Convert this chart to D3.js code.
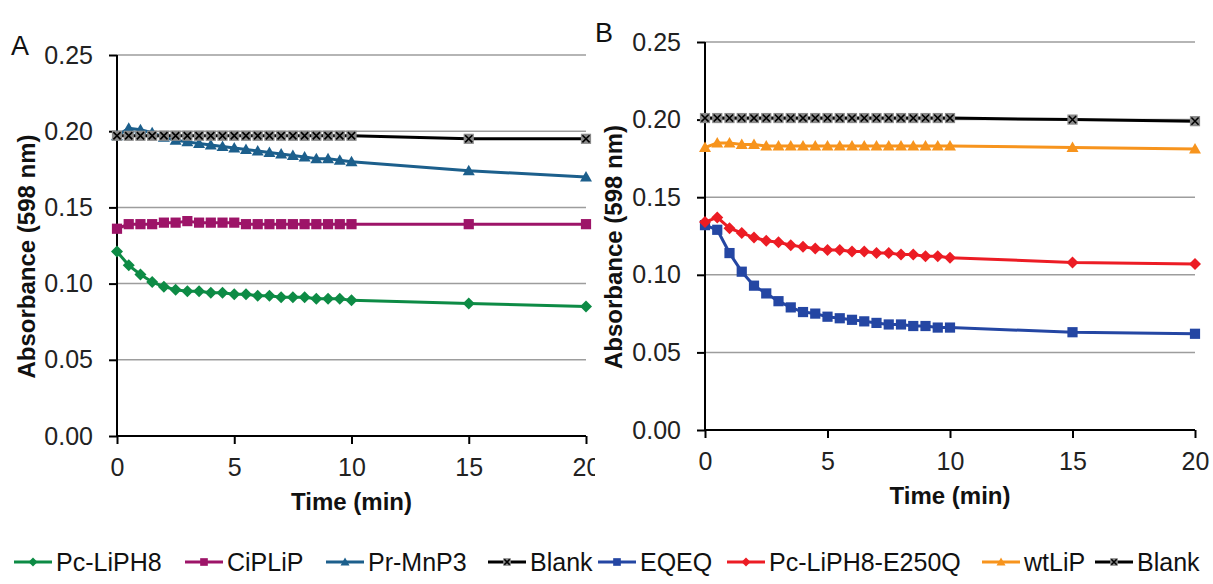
<!DOCTYPE html>
<html>
<head>
<meta charset="utf-8">
<script src="https://cdn.jsdelivr.net/npm/d3@7"></script>
<style>
    body { margin: 0; background: #fff; }
    svg { display: block; font-family: "Liberation Sans", Arial, sans-serif; }
</style>
</head>
<body>
<svg id="chart" width="1213" height="584"></svg>
<script>
// time points (min)
const times = [0, 0.5, 1, 1.5, 2, 2.5, 3, 3.5, 4, 4.5, 5, 5.5, 6, 6.5, 7, 7.5, 8, 8.5, 9, 9.5, 10, 15, 20];
const xTicks = [0, 5, 10, 15, 20];
const yTicks = [0, 0.05, 0.10, 0.15, 0.20, 0.25];

// panel A
const pcLiPH8 = [0.121, 0.112, 0.106, 0.101, 0.098, 0.096, 0.095, 0.095, 0.094, 0.094, 0.093, 0.093, 0.092, 0.092, 0.091, 0.091, 0.091, 0.090, 0.090, 0.090, 0.089, 0.087, 0.085];
const ciPLiP = [0.136, 0.139, 0.139, 0.139, 0.140, 0.140, 0.141, 0.140, 0.140, 0.140, 0.140, 0.139, 0.139, 0.139, 0.139, 0.139, 0.139, 0.139, 0.139, 0.139, 0.139, 0.139, 0.139];
const prMnP3 = [0.197, 0.202, 0.201, 0.199, 0.196, 0.194, 0.193, 0.192, 0.191, 0.190, 0.189, 0.188, 0.187, 0.186, 0.185, 0.184, 0.183, 0.182, 0.182, 0.181, 0.180, 0.174, 0.170];
const blankA = [0.197, 0.197, 0.197, 0.197, 0.197, 0.197, 0.197, 0.197, 0.197, 0.197, 0.197, 0.197, 0.197, 0.197, 0.197, 0.197, 0.197, 0.197, 0.197, 0.197, 0.197, 0.195, 0.195];

// panel B
const eqeq = [0.132, 0.129, 0.114, 0.102, 0.093, 0.088, 0.083, 0.079, 0.076, 0.075, 0.073, 0.072, 0.071, 0.070, 0.069, 0.068, 0.068, 0.067, 0.067, 0.066, 0.066, 0.063, 0.062];
const e250q = [0.134, 0.137, 0.130, 0.127, 0.124, 0.122, 0.121, 0.119, 0.118, 0.117, 0.116, 0.116, 0.115, 0.115, 0.114, 0.114, 0.113, 0.113, 0.112, 0.112, 0.111, 0.108, 0.107];
const wtLiP = [0.182, 0.185, 0.185, 0.184, 0.184, 0.183, 0.183, 0.183, 0.183, 0.183, 0.183, 0.183, 0.183, 0.183, 0.183, 0.183, 0.183, 0.183, 0.183, 0.183, 0.183, 0.182, 0.181];
const blankB = [0.201, 0.201, 0.201, 0.201, 0.201, 0.201, 0.201, 0.201, 0.201, 0.201, 0.201, 0.201, 0.201, 0.201, 0.201, 0.201, 0.201, 0.201, 0.201, 0.201, 0.201, 0.200, 0.199];

const seriesA = [
    { name: "Pc-LiPH8", values: pcLiPH8, color: "#0d8b45", marker: "diamond" },
    { name: "CiPLiP", values: ciPLiP, color: "#9d1468", marker: "square" },
    { name: "Pr-MnP3", values: prMnP3, color: "#1c5f8c", marker: "triangle" },
    { name: "Blank", values: blankA, color: "#000000", marker: "cross" }
];
const seriesB = [
    { name: "EQEQ", values: eqeq, color: "#2446a3", marker: "square" },
    { name: "Pc-LiPH8-E250Q", values: e250q, color: "#ec1c24", marker: "diamond" },
    { name: "wtLiP", values: wtLiP, color: "#f7941d", marker: "triangle" },
    { name: "Blank", values: blankB, color: "#000000", marker: "cross" }
];

const svg = d3.select("#chart");

svg.append("defs").append("clipPath")
    .attr("id", "clipA")
    .append("rect")
    .attr("x", 0).attr("y", 0)
    .attr("width", 595).attr("height", 520);

// draws one marker shape into g
const drawMarker = (g, type, color, s) => {
    if (type === "diamond") {
        g.append("path")
            .attr("d", `M0,${-s}L${s},0L0,${s}L${-s},0Z`)
            .attr("fill", color);
    } else if (type === "square") {
        const h = s * 0.85;
        g.append("rect")
            .attr("x", -h).attr("y", -h)
            .attr("width", 2 * h).attr("height", 2 * h)
            .attr("fill", color);
    } else if (type === "triangle") {
        g.append("path")
            .attr("d", `M0,${-s}L${s},${s * 0.75}L${-s},${s * 0.75}Z`)
            .attr("fill", color);
    } else {
        const h = s * 0.85;
        g.append("rect")
            .attr("x", -h).attr("y", -h)
            .attr("width", 2 * h).attr("height", 2 * h)
            .attr("fill", "#8a8a8a");
        const c = s * 0.6;
        g.append("path")
            .attr("d", `M${-c},${-c}L${c},${c}M${-c},${c}L${c},${-c}`)
            .attr("stroke", "#000")
            .attr("stroke-width", 1.6)
            .attr("fill", "none");
    }
};

const drawPanel = (opts) => {
    const { left, right, top, bottom, series, letter, letterX, letterY, yTitleX, xTitleY, clip } = opts;

    const g = svg.append("g");
    if (clip) g.attr("clip-path", "url(#clipA)");

    const x = d3.scaleLinear().domain([0, 20]).range([left, right]);
    const y = d3.scaleLinear().domain([0, 0.25]).range([bottom, top]);

    // gridlines
    g.append("g")
        .selectAll("line")
        .data(yTicks.filter(d => d > 0))
        .join("line")
        .attr("x1", left).attr("x2", right)
        .attr("y1", d => y(d)).attr("y2", d => y(d))
        .attr("stroke", "#9d9d9d")
        .attr("stroke-width", 1.5);

    const yAxis = g.append("g")
        .attr("transform", `translate(${left},0)`)
        .call(d3.axisLeft(y).tickValues(yTicks).tickFormat(d3.format(".2f")).tickSize(8).tickPadding(16));
    const xAxis = g.append("g")
        .attr("transform", `translate(0,${bottom})`)
        .call(d3.axisBottom(x).tickValues(xTicks).tickSize(8).tickPadding(14));

    [yAxis, xAxis].forEach(a => {
        a.select(".domain").attr("stroke", "#000").attr("stroke-width", 2);
        a.selectAll(".tick line").attr("stroke", "#000").attr("stroke-width", 2);
        a.selectAll(".tick text")
            .attr("fill", "#222")
            .attr("font-size", 25)
            .attr("font-family", "Liberation Sans, Arial, sans-serif");
    });
    yAxis.select(".domain").attr("d", `M0,${bottom}V${top}`);
    xAxis.select(".domain").attr("d", `M${left},0H${right}`);

    const line = d3.line()
        .x((d, i) => x(times[i]))
        .y(d => y(d));

    series.forEach(s => {
        g.append("path")
            .datum(s.values)
            .attr("fill", "none")
            .attr("stroke", s.color)
            .attr("stroke-width", 3)
            .attr("stroke-linejoin", "round")
            .attr("d", line);

        g.append("g")
            .selectAll("g")
            .data(s.values)
            .join("g")
            .attr("transform", (d, i) => `translate(${x(times[i])},${y(d)})`)
            .each(function () { drawMarker(d3.select(this), s.marker, s.color, 6); });
    });

    // titles
    g.append("text")
        .attr("x", letterX).attr("y", letterY)
        .attr("font-size", 27)
        .attr("fill", "#111")
        .text(letter);

    g.append("text")
        .attr("transform", `translate(${yTitleX},${(top + bottom) / 2 + 11}) rotate(-90)`)
        .attr("text-anchor", "middle")
        .attr("dominant-baseline", "central")
        .attr("font-size", 24)
        .attr("font-weight", "bold")
        .attr("fill", "#111")
        .text("Absorbance (598 nm)");

    g.append("text")
        .attr("x", (left + right) / 2)
        .attr("y", xTitleY)
        .attr("text-anchor", "middle")
        .attr("dominant-baseline", "central")
        .attr("font-size", 24)
        .attr("font-weight", "bold")
        .attr("fill", "#111")
        .text("Time (min)");
};

drawPanel({ left: 117, right: 586, top: 55, bottom: 436, series: seriesA, letter: "A", letterX: 11, letterY: 55, yTitleX: 26, xTitleY: 501, clip: true });
drawPanel({ left: 705, right: 1195, top: 42, bottom: 430, series: seriesB, letter: "B", letterX: 595, letterY: 42, yTitleX: 613, xTitleY: 495, clip: false });

// legend
const legendItems = seriesA.concat(seriesB);
const legendX = [14, 185, 326, 488, 598, 727, 982, 1095];
const legendY = 562;

const legend = svg.append("g");
legendItems.forEach((s, i) => {
    const lg = legend.append("g").attr("transform", `translate(${legendX[i]},${legendY})`);
    lg.append("line")
        .attr("x1", 0).attr("x2", 38)
        .attr("stroke", s.color)
        .attr("stroke-width", 3);
    const m = lg.append("g").attr("transform", "translate(19,0)");
    drawMarker(m, s.marker, s.color, 4.5);
    lg.append("text")
        .attr("x", 42)
        .attr("dominant-baseline", "central")
        .attr("font-size", 25)
        .attr("fill", "#111")
        .text(s.name);
});
</script>
</body>
</html>
